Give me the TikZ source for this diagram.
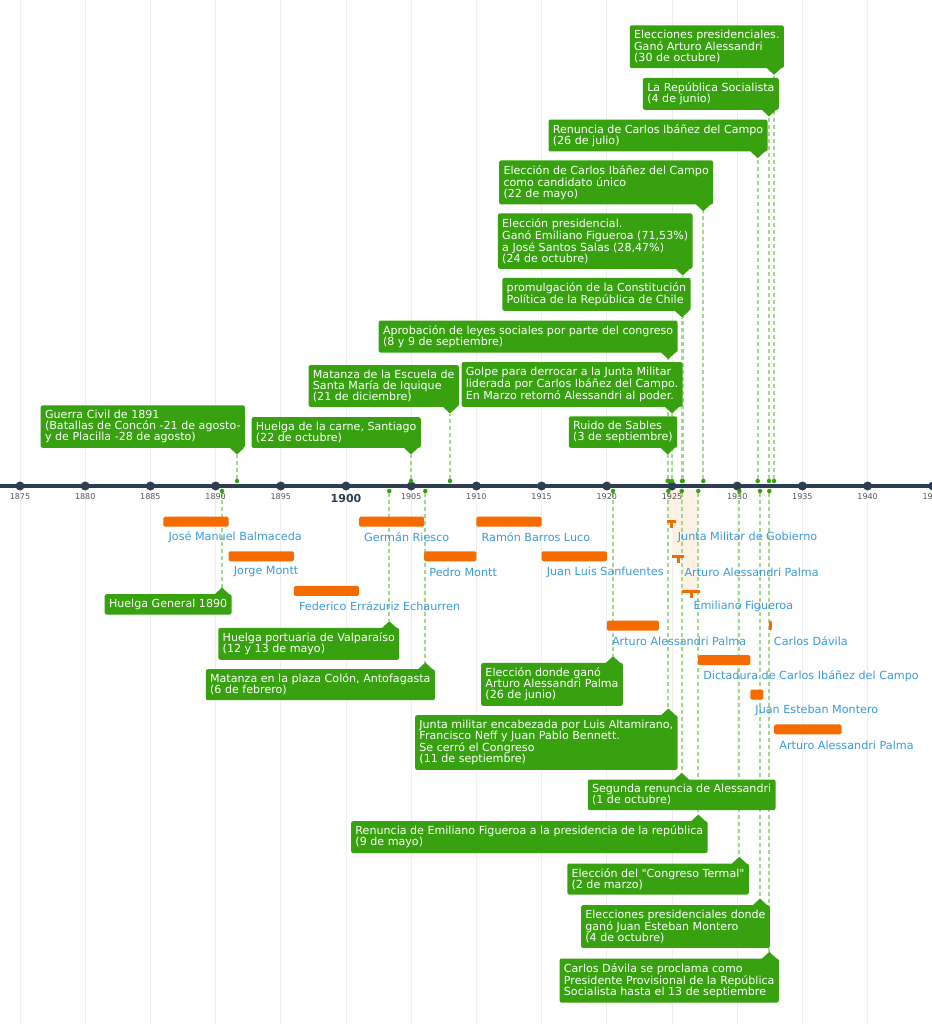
\documentclass[tikz,border=0pt]{standalone}
\usepackage{fontspec}
\setmainfont{DejaVu Sans}[Ligatures=TeXOff]

\definecolor{evgreen}{HTML}{37A10F}
\definecolor{evdash}{HTML}{A3D88B}
\definecolor{presorange}{HTML}{F56B00}
\definecolor{presblue}{HTML}{3A9AD9}
\definecolor{axisblue}{HTML}{2C3E50}
\definecolor{gridgray}{HTML}{EEEEEE}
\definecolor{peach}{HTML}{FDF0E5}
\definecolor{yeargray}{HTML}{555555}

\pgfdeclarelayer{grid}
\pgfdeclarelayer{lines}
\pgfsetlayers{grid,lines,main}

\tikzset{
  evbox/.style={fill=evgreen, text=white, rounded corners=2pt, align=left,
    inner xsep=4.3pt, inner ysep=4.8pt, font=\fontsize{11.1}{11.1}\selectfont},
  evdot/.style={circle, fill=evgreen, inner sep=0pt, minimum size=4.5pt},
  evline/.style={evdash, line width=2pt, dash pattern=on 4pt off 3pt},
  preslabel/.style={anchor=west, inner sep=0pt, text=presblue, font=\fontsize{11.2}{11.1}\selectfont},
  axdot/.style={circle, fill=axisblue, inner sep=0pt, minimum size=9pt},
  yearlabel/.style={inner sep=0pt, text=yeargray, font=\fontsize{8}{8}\selectfont},
}

% event above the axis: name, pointer x, box right, box bottom, text
\newcommand{\evtop}[5]{
  \node[evbox, anchor=south east] (b#1) at (#3,#4) {#5};
  \fill[evgreen] (#2-7.5,#4-0.5) -- (#2,#4+6.5) -- (#2+7.5,#4-0.5) -- cycle;
  \coordinate (t#1) at (#2,#4+6.5);
  \node[evdot] (d#1) at (#2,481) {};
  \begin{pgfonlayer}{lines}
    \draw[evline] (d#1) -- (t#1);
  \end{pgfonlayer}
}
% event below the axis: name, pointer x, box right, box top, text
\newcommand{\evbot}[5]{
  \node[evbox, anchor=north east] (b#1) at (#3,#4) {#5};
  \fill[evgreen] (#2-7.5,#4+0.5) -- (#2,#4-6.5) -- (#2+7.5,#4+0.5) -- cycle;
  \coordinate (t#1) at (#2,#4-6.5);
  \node[evdot] (d#1) at (#2,491) {};
  \begin{pgfonlayer}{lines}
    \draw[evline] (d#1) -- (t#1);
  \end{pgfonlayer}
}
% president: name, from year, to year, row, label
\newcommand{\pres}[5]{
  \fill[presorange, rounded corners=1.5pt] ({20+(#2-1875)*13.04},{516.7+(#4-1)*34.6})
    rectangle ({20+(#3-1875)*13.04},{526.7+(#4-1)*34.6});
  \node[preslabel] (p#1) at ({25+(#2-1875)*13.04},{537.3+(#4-1)*34.6}) {#5};
}

\begin{document}
\begin{tikzpicture}[x=1pt, y=-1pt]
\useasboundingbox (0,0) rectangle (931,1024);

% background, grid and shading
\begin{pgfonlayer}{grid}
\fill[white] (0,0) rectangle (931,1024);
\foreach \y in {1875,1880,...,1945}
  \draw[gridgray, line width=1pt] ({20+(\y-1875)*13.04},0) -- ({20+(\y-1875)*13.04},1024);
\fill[peach] (667,490) rectangle (672,520);
\fill[peach] (672,490) rectangle (682,555);
\fill[peach] (682,490) rectangle (698,590);
\end{pgfonlayer}

% axis
\draw[axisblue, line width=4pt] (0,486) -- (931,486);
\foreach \y in {1875,1880,...,1945}
  \node[axdot] (y\y) at ({20+(\y-1875)*13.04},486) {};
\foreach \y in {1875,1880,1885,1890,1895,1905,1910,1915,1920,1925,1930,1935,1940,1945}
  \node[yearlabel] (l\y) at ({20+(\y-1875)*13.04},497) {\y};
\node[inner sep=0pt, text=axisblue, font=\fontsize{11}{11}\selectfont\bfseries] (l1900) at (346,498.3) {1900};

% events above
\evtop{guerra}{237}{245}{448}{Guerra Civil de 1891\\(Batallas de Concón -21 de agosto-\\y de Placilla -28 de agosto)}
\evtop{carne}{411}{421}{448}{Huelga de la carne, Santiago\\(22 de octubre)}
\evtop{iquique}{450}{459}{407}{Matanza de la Escuela de\\Santa María de Iquique\\(21 de diciembre)}
\evtop{golpe}{672}{682.7}{407}{Golpe para derrocar a la Junta Militar\\liderada por Carlos Ibáñez del Campo.\\En Marzo retornó Alessandri al poder.}
\evtop{ruido}{667.7}{677.3}{448}{Ruido de Sables\\(3 de septiembre)}
\evtop{leyes}{668.3}{677.7}{352.7}{Aprobación de leyes sociales por parte del congreso\\(8 y 9 de septiembre)}
\evtop{constitucion}{682}{690.7}{311}{promulgación de la Constitución\\Política de la República de Chile}
\evtop{figueroa}{682.7}{692.7}{269}{Elección presidencial.\\Ganó Emiliano Figueroa (71,53\%)\\a José Santos Salas (28,47\%)\\(24 de octubre)}
\evtop{candidato}{703.3}{713.3}{204.7}{Elección de Carlos Ibáñez del Campo\\como candidato único\\(22 de mayo)}
\evtop{renuncia}{757.7}{767.7}{151.7}{Renuncia de Carlos Ibáñez del Campo\\(26 de julio)}
\evtop{socialista}{769}{779}{110}{La República Socialista\\(4 de junio)}
\evtop{elecciones}{774}{784}{68.3}{Elecciones presidenciales.\\Ganó Arturo Alessandri\\(30 de octubre)}

% events below
\evbot{huelga}{222}{231.7}{594}{Huelga General 1890}
\evbot{portuaria}{389.3}{399.3}{627.7}{Huelga portuaria de Valparaíso\\(12 y 13 de mayo)}
\evbot{colon}{425.3}{435}{669}{Matanza en la plaza Colón, Antofagasta\\(6 de febrero)}
\evbot{gano}{613}{623}{662.7}{Elección donde ganó\\Arturo Alessandri Palma\\(26 de junio)}
\evbot{junta}{668.3}{677.7}{715}{Junta militar encabezada por Luis Altamirano,\\Francisco Neff y Juan Pablo Bennett.\\Se cerró el Congreso\\(11 de septiembre)}
\evbot{segunda}{681.7}{775.7}{779.3}{Segunda renuncia de Alessandri\\(1 de octubre)}
\evbot{renfig}{698.3}{707.7}{821}{Renuncia de Emiliano Figueroa a la presidencia de la república\\(9 de mayo)}
\evbot{termal}{739.3}{749}{863.3}{Elección del "Congreso Termal"\\(2 de marzo)}
\evbot{montero}{760}{770}{905}{Elecciones presidenciales donde\\ganó Juan Esteban Montero\\(4 de octubre)}
\evbot{davila}{769.3}{779}{958.3}{Carlos Dávila se proclama como\\Presidente Provisional de la República\\Socialista hasta el 13 de septiembre}

% presidents
\pres{balmaceda}{1886}{1891}{1}{José Manuel Balmaceda}
\pres{jmontt}{1891}{1896}{2}{Jorge Montt}
\pres{errazuriz}{1896}{1901}{3}{Federico Errázuriz Echaurren}
\pres{riesco}{1901}{1906}{1}{Germán Riesco}
\pres{pmontt}{1906}{1910}{2}{Pedro Montt}
\pres{barros}{1910}{1915}{1}{Ramón Barros Luco}
\pres{sanfuentes}{1915}{1920}{2}{Juan Luis Sanfuentes}
\pres{alessandri}{1920}{1924}{4}{Arturo Alessandri Palma}
\pres{ibanez}{1927}{1931}{5}{Dictadura de Carlos Ibáñez del Campo}
\pres{montero}{1931}{1932}{6}{Juan Esteban Montero}
\pres{davila}{1932.42}{1932.65}{4}{Carlos Dávila}
\pres{alessandrib}{1932.84}{1938}{7}{Arturo Alessandri Palma}

% short terms
\fill[presorange] (666.7,520.3) rectangle (675.7,523.3);
\fill[presorange] (669.7,523) rectangle (672.7,528);
\node[preslabel] (pjunta) at (677.7,537.3) {Junta Militar de Gobierno};
\fill[presorange] (672.3,554.7) rectangle (684.3,557.7);
\fill[presorange] (676.8,557.5) rectangle (679.8,562.5);
\node[preslabel] (palessandric) at (684.3,571.9) {Arturo Alessandri Palma};
\fill[presorange] (682.3,589.7) rectangle (700,592.7);
\fill[presorange] (689.6,592.5) rectangle (692.6,597.5);
\node[preslabel] (pfigueroa) at (693.3,606.5) {Emiliano Figueroa};
\end{tikzpicture}
\end{document}
